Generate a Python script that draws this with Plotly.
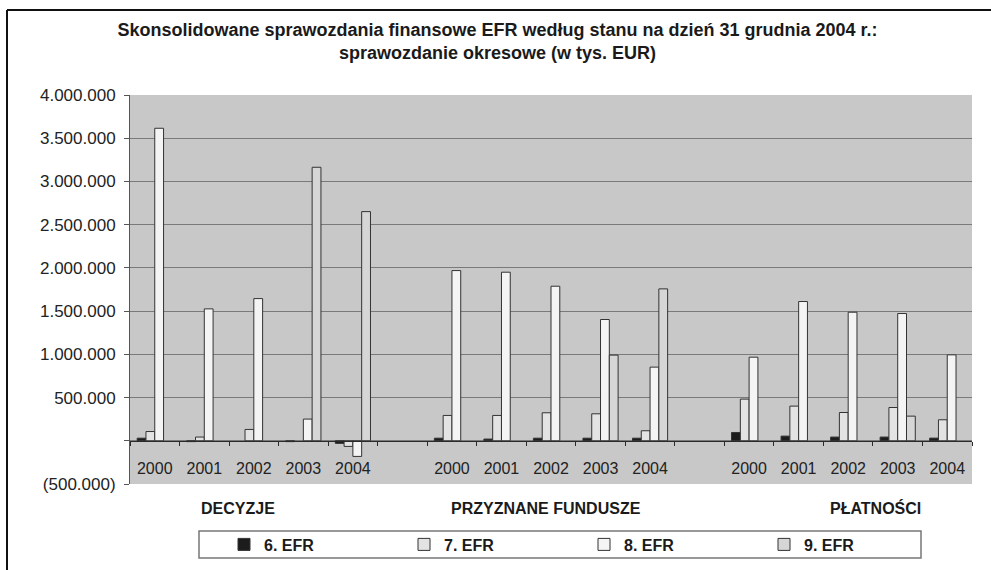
import plotly.graph_objects as go

groups = ["DECYZJE", "PRZYZNANE FUNDUSZE", "PŁATNOŚCI"]
years = ["2000", "2001", "2002", "2003", "2004"]
series_names = ["6. EFR", "7. EFR", "8. EFR", "9. EFR"]

# values in thousands EUR, per group, per year
efr6 = {
    "DECYZJE": [30000, -10000, None, -10000, -30000],
    "PRZYZNANE FUNDUSZE": [30000, 20000, 30000, 30000, 30000],
    "PŁATNOŚCI": [96000, 54000, 43000, 43000, 31000],
}
efr7 = {
    "DECYZJE": [107000, 43000, 131000, None, -65000],
    "PRZYZNANE FUNDUSZE": [293000, 293000, 324000, 312000, 116000],
    "PŁATNOŚCI": [482000, 401000, 327000, 385000, 243000],
}
efr8 = {
    "DECYZJE": [3615000, 1526000, 1645000, 251000, -181000],
    "PRZYZNANE FUNDUSZE": [1969000, 1950000, 1788000, 1403000, 852000],
    "PŁATNOŚCI": [967000, 1611000, 1487000, 1472000, 994000],
}
efr9 = {
    "DECYZJE": [None, None, None, 3164000, 2651000],
    "PRZYZNANE FUNDUSZE": [None, None, None, 991000, 1757000],
    "PŁATNOŚCI": [None, None, None, 285000, None],
}

y_tickvals = [-500000, 0, 500000, 1000000, 1500000, 2000000, 2500000, 3000000, 3500000, 4000000]
y_ticktext = ["(500.000)", "", "500.000", "1.000.000", "1.500.000", "2.000.000",
              "2.500.000", "3.000.000", "3.500.000", "4.000.000"]

colors = ["#1c1c1c", "#e3e3e3", "#f4f4f4", "#d6d6d6"]

# build categorical axis with spacer categories between groups
cats, tick_labels = [], []
series_vals = [[], [], [], []]
for gi, g in enumerate(groups):
    if gi > 0:
        sp = " " * gi
        cats.append(sp)
        tick_labels.append("")
        for s in series_vals:
            s.append(None)
    for yi, yr in enumerate(years):
        cats.append(f"{g} {yr}")
        tick_labels.append(yr)
        for s, src in zip(series_vals, [efr6, efr7, efr8, efr9]):
            s.append(src[g][yi])

FONT = "Liberation Sans, Arial, sans-serif"
fig = go.Figure()
for name, vals, col in zip(series_names, series_vals, colors):
    fig.add_trace(go.Bar(
        x=cats, y=vals, name=f"<b>{name}</b>",
        marker=dict(color=col, line=dict(color="#333333", width=1)),
    ))

W, H = 991, 570
L, R, T, B = 130, 19, 95, 86
pw, ph = W - L - R, H - T - B

def px(x):
    return (x - L) / pw

def py(y):
    return (H - B - y) / ph

fig.update_layout(
    width=W, height=H,
    margin=dict(l=L, r=R, t=T, b=B, autoexpand=False),
    paper_bgcolor="white",
    plot_bgcolor="#c8c8c8",
    barmode="group",
    bargap=0.29,
    bargroupgap=0,
    font=dict(family=FONT, size=16, color="#222222"),
    title=dict(
        text="<b>Skonsolidowane sprawozdania finansowe EFR według stanu na dzień 31 grudnia 2004 r.:<br>sprawozdanie okresowe (w tys. EUR)</b>",
        x=0.502, xanchor="center", y=1 - 36 / H, yanchor="middle",
        font=dict(family=FONT, size=18, color="#1a1a1a"),
    ),
    showlegend=True,
    legend=dict(
        orientation="h",
        x=px(224), xanchor="left",
        y=py(544.5), yanchor="middle",
        entrywidth=135, entrywidthmode="pixels",
        bgcolor="rgba(0,0,0,0)",
        font=dict(family=FONT, size=16, color="#1a1a1a"),
        traceorder="normal",
    ),
)

fig.update_xaxes(
    type="category",
    categoryorder="array", categoryarray=cats,
    tickmode="array", tickvals=cats, ticktext=tick_labels,
    anchor="free", position=500000 / 4500000,
    showline=True, linecolor="#2a2a2a", linewidth=1,
    ticks="outside", ticklen=4, tickcolor="#2a2a2a", tickson="boundaries",
    ticklabelstandoff=13,
    showgrid=False, zeroline=False,
    tickfont=dict(family=FONT, size=16, color="#222222"),
)
fig.update_yaxes(
    range=[-500000, 4000000],
    tickmode="array", tickvals=y_tickvals, ticktext=y_ticktext,
    showline=True, linecolor="#555555", linewidth=1,
    ticks="outside", ticklen=5, tickcolor="#555555",
    ticklabelstandoff=5,
    showgrid=True, gridcolor="#7a7a7a", gridwidth=1,
    zeroline=False,
    tickfont=dict(family=FONT, size=17, color="#222222"),
)

# group labels
for g, cx in zip(groups, [238, 546, 875]):
    fig.add_annotation(
        text=f"<b>{g}</b>", xref="paper", yref="paper",
        x=px(cx), y=py(508), xanchor="center", yanchor="middle",
        showarrow=False, font=dict(family=FONT, size=16, color="#1a1a1a"),
    )

# legend box and outer frame
fig.add_shape(type="rect", xref="paper", yref="paper",
              x0=px(199), x1=px(921), y0=py(531), y1=py(558),
              line=dict(color="#777777", width=1.5), fillcolor="rgba(0,0,0,0)")
fig.add_shape(type="line", xref="paper", yref="paper",
              x0=px(7), x1=px(991), y0=py(10), y1=py(10),
              line=dict(color="#111111", width=2))
fig.add_shape(type="line", xref="paper", yref="paper",
              x0=px(7), x1=px(7), y0=py(10), y1=py(570),
              line=dict(color="#111111", width=2))

fig.write_html("out.html", config={"displayModeBar": False},
               post_script="document.body.style.margin='0';")
